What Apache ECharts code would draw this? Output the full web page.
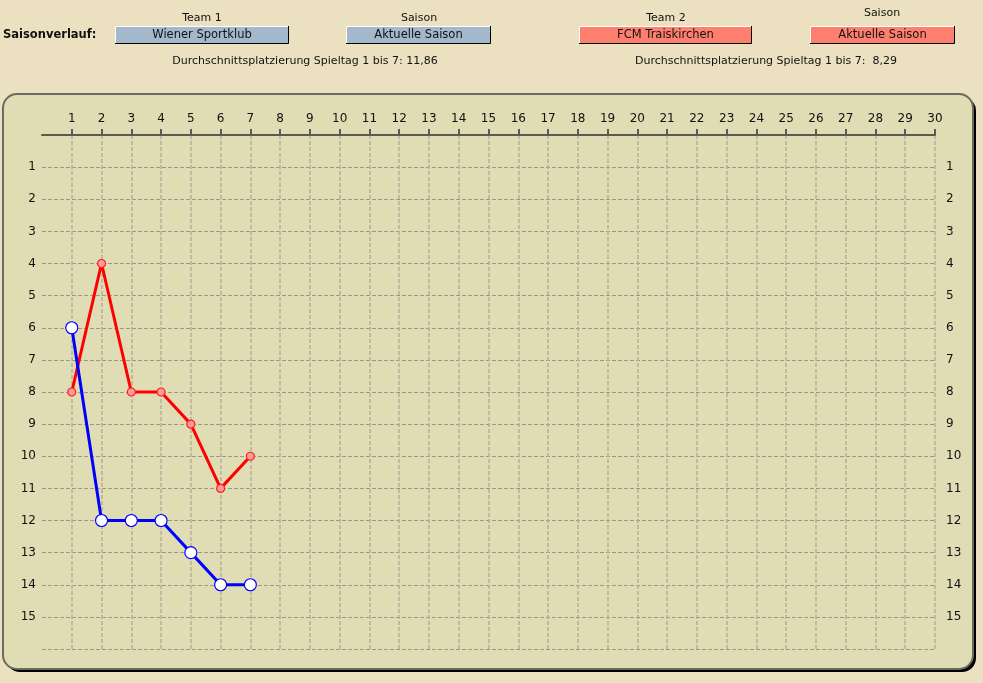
<!DOCTYPE html>
<html><head><meta charset="utf-8">
<script src="https://cdn.jsdelivr.net/npm/echarts@6/dist/echarts.min.js"></script>
<style>html,body{margin:0;padding:0;background:#ebe0c0;}#c{width:983px;height:683px;}</style>
</head><body><div id="c"></div>
<script>
const matchdays = [1,2,3,4,5,6,7];
const team1Places = [6,12,12,12,13,14,14];
const team2Places = [8,4,8,8,9,11,10];
const xTicks = Array.from({length:30},(_,i)=>i+1);
const yTicks = Array.from({length:15},(_,i)=>i+1);
const team1Name = 'Wiener Sportklub';
const team2Name = 'FCM Traiskirchen';
const seasonName = 'Aktuelle Saison';
const avg1 = '11,86';
const avg2 = '8,29';

const FONT = 'DejaVu Sans';
const chart = echarts.init(document.getElementById('c'), null, {renderer:'canvas'});

function box(x, y, w, h, fill, label) {
  return [
    {type:'rect', shape:{x:x, y:y, width:w, height:h}, style:{fill:fill}, z:1},
    {type:'polyline', shape:{points:[[x+0.5,y+h],[x+0.5,y+0.5],[x+w,y+0.5]]}, style:{stroke:'#ffffff', lineWidth:1, fill:null}, z:2},
    {type:'polyline', shape:{points:[[x,y+h-0.5],[x+w-0.5,y+h-0.5],[x+w-0.5,y]]}, style:{stroke:'#000000', lineWidth:1, fill:null}, z:2},
    {type:'text', x:x+w/2, y:y+h/2+0.5, style:{text:label, fill:'#111', font:'11.5px "'+FONT+'"', align:'center', verticalAlign:'middle'}, z:3}
  ];
}
function txt(x, y, s, bold) {
  return {type:'text', x:x, y:y, style:{text:s, fill:'#111', font:(bold?'bold 11.5px ':'11px ')+'"'+FONT+'"', align:bold?'left':'center', verticalAlign:'middle'}, z:3};
}

const graphics = [
  {type:'rect', shape:{x:6, y:97, width:970, height:575, r:14}, style:{fill:'#000000'}, z:-10},
  {type:'rect', shape:{x:3, y:94, width:970, height:575, r:14}, style:{fill:'#e0dcb4', stroke:'#6a6a60', lineWidth:2}, z:-9},
  txt(3, 35, 'Saisonverlauf:', true),
  txt(202, 18, 'Team 1'),
  txt(419, 18, 'Saison'),
  txt(666, 18, 'Team 2'),
  txt(882, 13, 'Saison'),
  ...box(115, 26, 174, 18, '#a4b8cc', team1Name),
  ...box(346, 26, 145, 18, '#a4b8cc', seasonName),
  ...box(579, 26, 173, 18, '#ff7f6f', team2Name),
  ...box(810, 26, 145, 18, '#ff7f6f', seasonName),
  txt(305, 61, 'Durchschnittsplatzierung Spieltag 1 bis 7: ' + avg1),
  txt(766, 61, 'Durchschnittsplatzierung Spieltag 1 bis 7:  ' + avg2)
];

const lblStyle = {color:'#111', fontFamily:FONT, fontSize:12};
const option = {
  animation:false,
  backgroundColor:'#ebe0c0',
  graphic:{elements:graphics},
  grid:{left:42, right:48, top:135, bottom:34, containLabel:false},
  xAxis:{
    type:'value', position:'top', min:0, max:30, interval:1,
    axisLine:{show:true, lineStyle:{color:'#5a5a52', width:2}},
    axisTick:{show:true, length:6, lineStyle:{color:'#5a5a52', width:2}, customValues:xTicks},
    axisLabel:{...lblStyle, margin:10, customValues:xTicks, formatter:v=>String(v)},
    splitLine:{show:true, lineStyle:{color:'#b3b09c', type:[4,2], width:1.5}}
  },
  yAxis:[
    {type:'value', inverse:true, min:0, max:16, interval:1, position:'left',
      axisLine:{show:false}, axisTick:{show:false},
      axisLabel:{...lblStyle, margin:6, customValues:yTicks, formatter:v=>String(v)},
      splitLine:{show:true, lineStyle:{color:'#9a988a', type:[4,2], width:1}}
    },
    {type:'value', inverse:true, min:0, max:16, interval:1, position:'right',
      axisLine:{show:false}, axisTick:{show:false},
      axisLabel:{...lblStyle, margin:11, customValues:yTicks, formatter:v=>String(v)},
      splitLine:{show:false}
    }
  ],
  series:[
    {type:'line', name:team2Name, data:matchdays.map((d,i)=>[d, team2Places[i]]),
      lineStyle:{color:'#ff0000', width:3}, symbol:'circle', symbolSize:8,
      itemStyle:{color:'#ff9a9a', borderColor:'#ff2020', borderWidth:1.2}, z:3},
    {type:'line', name:team1Name, data:matchdays.map((d,i)=>[d, team1Places[i]]),
      lineStyle:{color:'#0000ff', width:3}, symbol:'circle', symbolSize:12,
      itemStyle:{color:'#ffffff', borderColor:'#0000ff', borderWidth:1.2}, z:4}
  ]
};
chart.setOption(option);
</script></body></html>
